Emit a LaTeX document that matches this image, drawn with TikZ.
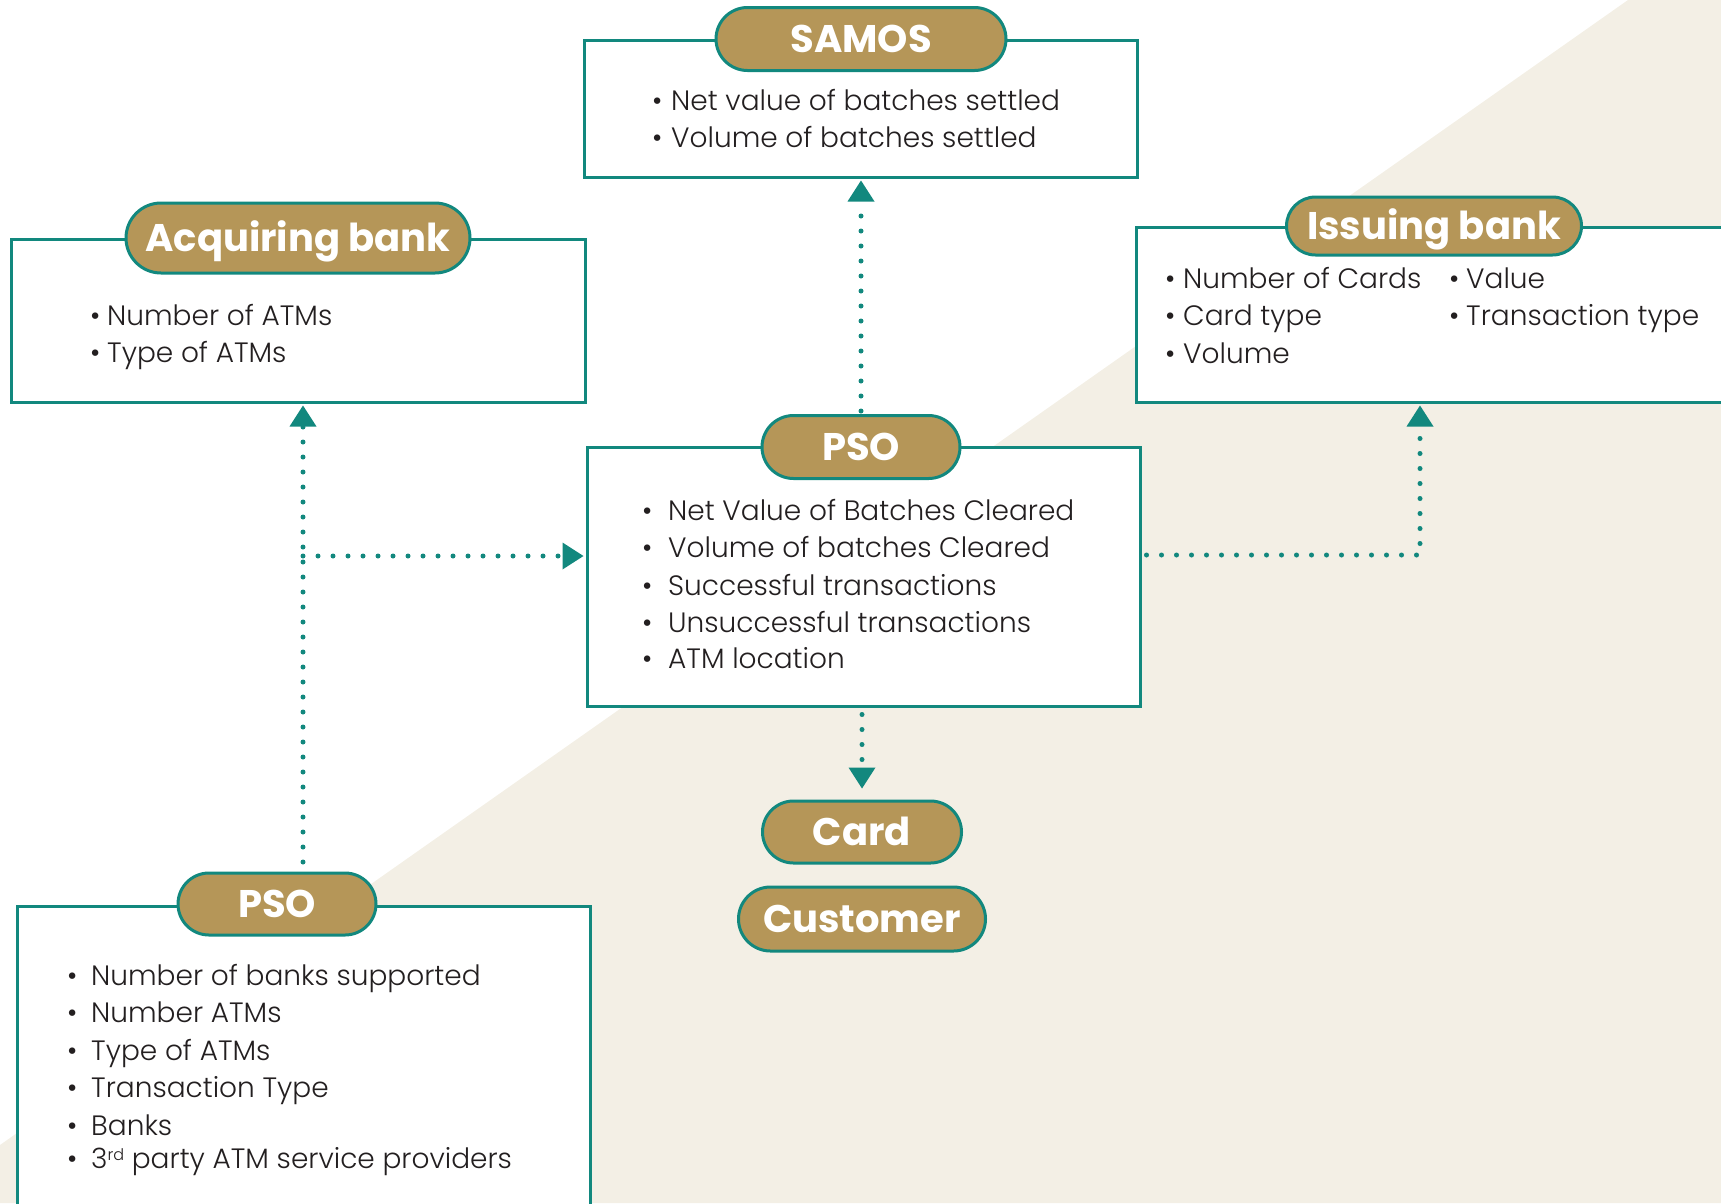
\documentclass[tikz,border=0pt]{standalone}
\usepackage{fontspec}
\setmainfont{Poppins}[UprightFont=* Light, BoldFont=* Bold]
\usetikzlibrary{arrows.meta,shapes.misc}
\definecolor{tealc}{RGB}{18,136,126}
\definecolor{goldc}{RGB}{181,150,88}
\definecolor{beigec}{RGB}{243,239,229}
\definecolor{textc}{RGB}{35,31,32}
\newcommand\bodyfnt{\fontsize{28}{37}\selectfont}
\newcommand\titlefnt{\fontsize{38.5}{42}\selectfont\bfseries}
\newcommand\bitem[2]{\makebox[#1][l]{•}#2}
\begin{document}
\begin{tikzpicture}[x=1pt,y=-1pt,
  box/.style={draw=tealc, line width=3pt, fill=white, inner sep=0pt},
  pill/.style={rounded rectangle, draw=tealc, line width=3pt, fill=goldc, text=white, inner sep=0pt, font=\titlefnt, text height=27pt, text depth=0pt},
  txt/.style={anchor=base west, inner sep=0pt, text=textc, font=\bodyfnt},
  dots/.style={draw=tealc, line width=5pt, line cap=round, dash pattern=on 0pt off 15pt},
  tip/.style={-{Triangle[length=21pt,width=27pt,line width=0pt]}}
]
\useasboundingbox (0,0) rectangle (1721,1203);
\clip (0,0) rectangle (1721,1203);
\fill[beigec] (1628,0) -- (1721,0) -- (1721,1203) -- (0,1203) -- (0,1145) -- cycle;

% boxes
\node[box, minimum width=553pt, minimum height=137pt] (samosbox) at (860.5,108.5) {};
\node[box, minimum width=574pt, minimum height=163pt] (acqbox) at (298,320.5) {};
\node[box, minimum width=604pt, minimum height=175pt] (issbox) at (1438,314.5) {};
\node[box, minimum width=553pt, minimum height=259pt] (psobox) at (863.5,576.5) {};
\node[box, minimum width=573pt, minimum height=314pt] (psoBbox) at (303.5,1063) {};

% pills
\node[pill, minimum width=290pt, minimum height=63pt] (samos) at (861,39) {SAMOS};
\node[pill, minimum width=344pt, minimum height=70pt] (acq) at (298,238) {Acquiring bank};
\node[pill, minimum width=295pt, minimum height=58pt] (iss) at (1434,226) {Issuing bank};
\node[pill, minimum width=198pt, minimum height=63pt] (pso) at (861,447) {PSO};
\node[pill, minimum width=199pt, minimum height=62pt] (card) at (862,832) {Card};
\node[pill, minimum width=247pt, minimum height=64pt] (cust) at (862,919) {Customer};
\node[pill, minimum width=198pt, minimum height=62pt] (psoB) at (277,904) {PSO};

% texts
\node[txt] (s1) at (652,110) {\bitem{19pt}{Net value of batches settled}};
\node[txt] (s2) at (652,147) {\bitem{19pt}{Volume of batches settled}};

\node[txt] (a1) at (90,325) {\bitem{17pt}{Number of ATMs}};
\node[txt] (a2) at (90,362) {\bitem{17pt}{Type of ATMs}};

\node[txt] (i1) at (1165,288) {\bitem{18pt}{Number of Cards}};
\node[txt] (i2) at (1165,325) {\bitem{18pt}{Card type}};
\node[txt] (i3) at (1165,363) {\bitem{18pt}{Volume}};
\node[txt] (i4) at (1449,288) {\bitem{17pt}{Value}};
\node[txt] (i5) at (1449,325) {\bitem{17pt}{Transaction type}};

\node[txt] (p1) at (642,520) {\bitem{26pt}{Net Value of Batches Cleared}};
\node[txt] (p2) at (642,557) {\bitem{26pt}{Volume of batches Cleared}};
\node[txt] (p3) at (642,595) {\bitem{26pt}{Successful transactions}};
\node[txt] (p4) at (642,632) {\bitem{26pt}{Unsuccessful transactions}};
\node[txt] (p5) at (642,668) {\bitem{26pt}{ATM location}};

\node[txt] (b1) at (67,985) {\bitem{24pt}{Number of banks supported}};
\node[txt] (b2) at (67,1022) {\bitem{24pt}{Number ATMs}};
\node[txt] (b3) at (67,1060) {\bitem{24pt}{Type of ATMs}};
\node[txt] (b4) at (67,1097) {\bitem{24pt}{Transaction Type}};
\node[txt] (b5) at (67,1135) {\bitem{24pt}{Banks}};
\node[txt] (b6) at (67,1168) {\bitem{24pt}{3\raisebox{8pt}{\fontsize{16}{16}\selectfont rd} party ATM service providers}};

% connectors
\coordinate (lstart) at (303,862);
\coordinate (jl) at (303,556);
\coordinate (rb) at (1420,555);
\draw[dots,tip,shorten >=2pt] (lstart) -- (lstart |- acqbox.south);
\draw[dots,tip,shorten >=2pt] (jl) -- (jl -| psobox.west);
\draw[dots,tip,shorten >=2pt] ([xshift=5pt]psobox.east |- rb) -- (rb) -- (rb |- issbox.south);
\draw[dots,tip,shorten >=2pt] ([yshift=3pt]pso.north) -- (pso.north |- samosbox.south);
\draw[dots,tip,shorten >=11pt] ([yshift=-7pt]psobox.south -| card.north) -- (card.north);
\end{tikzpicture}
\end{document}
